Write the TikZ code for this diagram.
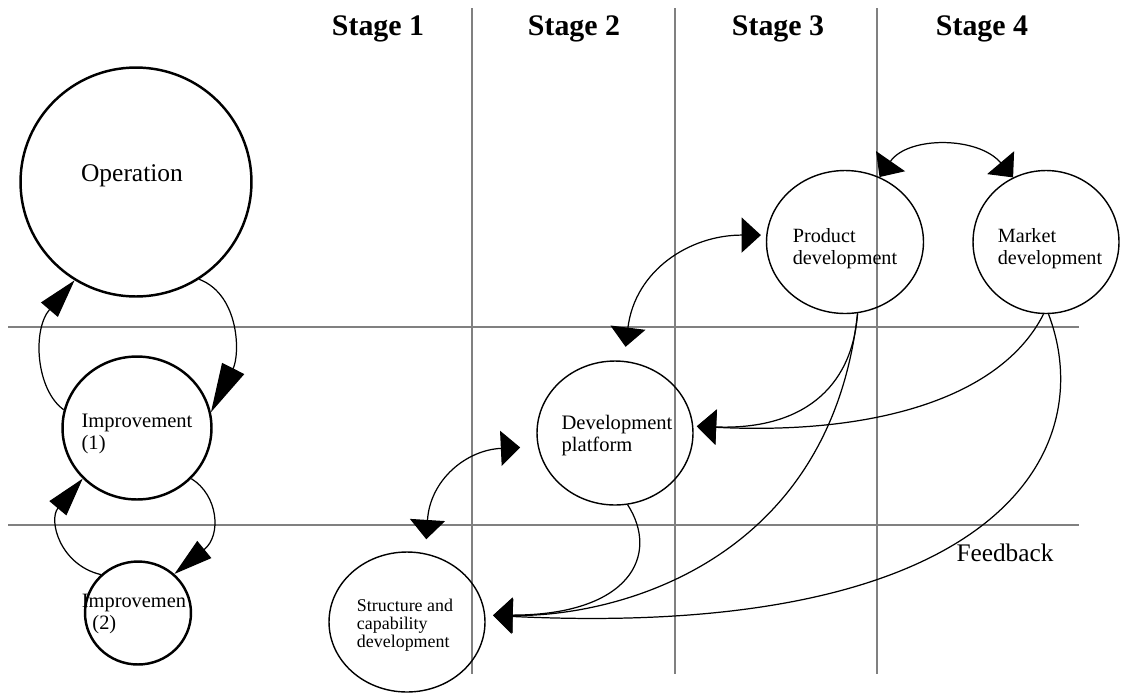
\documentclass[tikz,border=0pt]{standalone}
\usepackage{fontspec}
\setmainfont{Liberation Serif}
\usetikzlibrary{arrows.meta,shapes.geometric}
\colorlet{grid edge}{black!50}
\tikzset{thickring/.style={ellipse, draw, line width=1.4pt, inner sep=0pt},
    thinring/.style={ellipse, draw, line width=0.8pt, inner sep=0pt},
    gridline/.style={draw=grid edge, line width=0.8pt},
    stagelabel/.style={font=\fontsize{17}{20}\selectfont\bfseries},
    ringtext/.style={align=left, inner sep=0pt},
    cyclearrow/.style={line width=0.7pt, -{Triangle[length=22pt,width=12.5pt]}},
    longcycle/.style={line width=0.7pt, -{Triangle[length=28pt,width=14pt]}},
    flowarrow/.style={line width=0.7pt, -{Triangle[length=11pt,width=20pt]}},
    twoway/.style={line width=0.7pt,
      {Triangle[length=11pt,width=20pt]}-{Triangle[length=11pt,width=20pt]}}}

\begin{document}
\begin{tikzpicture}[x=0.02cm, y=-0.02cm]
    \useasboundingbox (0,0) rectangle (1122,694);
    % stage grid
    \foreach \x in {472,675,877}
      \draw[gridline] (\x,8) -- (\x,674);
    \foreach \y in {327,525}
      \draw[gridline] (8,\y) -- (1079,\y);
    \foreach \x/\n in {378/1,574/2,778/3,982/4}
      \node[stagelabel] (stage\n) at (\x,29) {Stage \n};

    % left column
    \node[thickring, minimum width=4.62cm, minimum height=4.58cm] (op) at (136,182) {};
    \node[ringtext, font=\fontsize{14.5}{17}\selectfont] (op-text) at (132,176) {Operation};
    \node[thickring, minimum width=2.98cm, minimum height=2.86cm] (imp1) at (137,428) {};
    \node[ringtext, font=\fontsize{11.7}{13}\selectfont] (imp1-text) at (137,434)
      {Improvement\\(1)};
    \node[thickring, minimum width=2.12cm, minimum height=2.06cm] (imp2) at (138,613) {};
    \node[ringtext, font=\fontsize{11.6}{12.5}\selectfont] (imp2-text) at (134,614)
      {Improvemen\\\hspace*{6pt}(2)};

    % stages
    \node[thinring, minimum width=3.12cm, minimum height=2.8cm] (struct) at (407,622) {};
    \node[ringtext, font=\fontsize{10.2}{10.2}\selectfont] (struct-text) at (405,625)
      {Structure and\\capability\\development};
    \node[thinring, minimum width=3.12cm, minimum height=2.88cm] (dev) at (615,433) {};
    \node[ringtext, font=\fontsize{11.7}{12.5}\selectfont] (dev-text) at (617,436)
      {Development\\platform};
    \node[thinring, minimum width=3.14cm, minimum height=2.86cm] (prod) at (845,242) {};
    \node[ringtext, font=\fontsize{11.5}{12.5}\selectfont] (prod-text) at (845,249)
      {Product\\development};
    \node[thinring, minimum width=2.92cm, minimum height=2.86cm] (market) at (1046,242) {};
    \node[ringtext, font=\fontsize{11.5}{12.5}\selectfont] (market-text) at (1050,249)
      {Market\\development};
    \node[font=\fontsize{14.4}{16}\selectfont] (feedback) at (1005,553) {Feedback};

    % improvement cycle
    \draw[longcycle] (op.-57) .. controls (240,295) and (240,355) .. (imp1.12);
    \draw[cyclearrow] (imp1.166) .. controls (36,390) and (32,330) .. (op.238);
    \draw[cyclearrow] (imp1.-43) .. controls (218,495) and (222,535) .. (imp2.47);
    \draw[cyclearrow] (imp2.134) .. controls (60,565) and (48,520) .. (imp1.223);

    % development links
    \draw[twoway] (prod.62) .. controls (908,136) and (978,136) .. (market.117);
    \draw[twoway, shorten <=8pt, shorten >=3pt] (dev.83) .. controls (635,270) and (690,235) .. (prod.175);
    \draw[twoway, shorten <=10pt, shorten >=8pt] (dev.190) .. controls (466,450) and (430,480) .. (struct.75);
    \draw[flowarrow, shorten >=2pt] (prod.-80) .. controls (852,390) and (800,430) .. (dev.5);
    \draw[flowarrow, shorten >=2pt] (market.-92) .. controls (1000,400) and (870,435) .. (dev.5);
    \draw[flowarrow, shorten >=4.5pt] (dev.-80) .. controls (660,555) and (630,615) .. (struct.5);
    \draw[flowarrow, shorten >=4.5pt] (prod.-80) .. controls (830,560) and (620,617) .. (struct.5);
    \draw[flowarrow, shorten >=4.5pt] (market.-88) .. controls (1100,450) and (1000,640) .. (struct.5);
\end{tikzpicture}
\end{document}
